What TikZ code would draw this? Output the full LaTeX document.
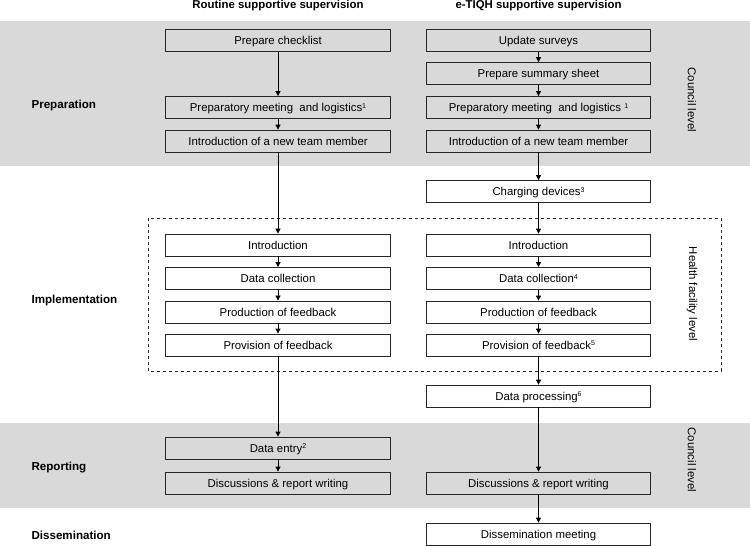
\documentclass[tikz,border=0pt]{standalone}
\usepackage{fontspec}
\setmainfont{Liberation Sans}
\usetikzlibrary{arrows.meta}
\definecolor{band}{HTML}{D9D9D9}
\newcommand{\supnum}[1]{\raisebox{0.55ex}{\fontsize{7}{7}\selectfont #1}}
\begin{document}
\begin{tikzpicture}[x=1pt,y=-1pt,
  font=\fontsize{11.4}{13}\selectfont,
  boxbase/.style={draw=black!85,line width=0.8pt,minimum width=224.5pt,minimum height=22pt,inner sep=0pt,text height=8.2pt,text depth=0pt,anchor=center},
  gbox/.style={boxbase,fill=band},
  wbox/.style={boxbase,fill=white},
  conn/.style={draw=black,line width=0.8pt,-{Triangle[length=5pt,width=5pt]}},
  head/.style={font=\fontsize{11.4}{13}\selectfont\bfseries},
  phase/.style={font=\fontsize{11.6}{13}\selectfont\bfseries,anchor=west},
  level/.style={rotate=-90,anchor=center}]
\useasboundingbox (0,0) rectangle (750,546);
\fill[white] (0,0) rectangle (750,546);
% bands
\fill[band] (0,21) rectangle (750,166);
\fill[band] (0,423) rectangle (750,508);
% dashed health facility box
\draw[dashed,line width=0.8pt,black!85] (148,218) rectangle (721,371);
% headings
\node[head] (h1) at (278,5.5) {Routine supportive supervision};
\node[head] (h2) at (538.5,5.5) {e-TIQH supportive supervision};
% phase labels
\node[phase] (p1) at (28,106) {Preparation};
\node[phase] (p2) at (28,300) {Implementation};
\node[phase] (p3) at (28,468) {Reporting};
\node[phase] (p4) at (28,535) {Dissemination};
% level labels
\node[level] (l1) at (692,100) {Council level};
\node[level] (l2) at (692,294) {Health facility level};
\node[level] (l3) at (692,460) {Council level};
% left column
\node[gbox] (a1) at (278,40.5) {Prepare checklist};
\node[gbox] (a2) at (278,107.5) {Preparatory meeting\ \ and logistics\supnum{1}};
\node[gbox] (a3) at (278,141) {Introduction of a new team member};
\node[wbox] (a4) at (278,245) {Introduction};
\node[wbox] (a5) at (278,278.5) {Data collection};
\node[wbox] (a6) at (278,312) {Production of feedback};
\node[wbox] (a7) at (278,345) {Provision of feedback};
\node[gbox] (a8) at (278,448) {Data entry\supnum{2}};
\node[gbox] (a9) at (278,483) {Discussions \& report writing};
% right column
\node[gbox] (b1) at (538.5,40.5) {Update surveys};
\node[gbox] (b2) at (538.5,73.5) {Prepare summary sheet};
\node[gbox] (b3) at (538.5,107.5) {Preparatory meeting\ \ and logistics \supnum{1}};
\node[gbox] (b4) at (538.5,141) {Introduction of a new team member};
\node[wbox] (b5) at (538.5,191.5) {Charging devices\supnum{3}};
\node[wbox] (b6) at (538.5,245) {Introduction};
\node[wbox] (b7) at (538.5,278.5) {Data collection\supnum{4}};
\node[wbox] (b8) at (538.5,312) {Production of feedback};
\node[wbox] (b9) at (538.5,345) {Provision of feedback\supnum{5}};
\node[wbox] (b10) at (538.5,396) {Data processing\supnum{6}};
\node[gbox] (b11) at (538.5,483) {Discussions \& report writing};
\node[wbox] (b12) at (538.5,534) {Dissemination meeting};
% connectors left
\draw[conn] (a1) -- (a2);
\draw[conn] (a2) -- (a3);
\draw[conn] (a3) -- (a4);
\draw[conn] (a4) -- (a5);
\draw[conn] (a5) -- (a6);
\draw[conn] (a6) -- (a7);
\draw[conn] (a7) -- (a8);
\draw[conn] (a8) -- (a9);
% connectors right
\draw[conn] (b1) -- (b2);
\draw[conn] (b2) -- (b3);
\draw[conn] (b3) -- (b4);
\draw[conn] (b4) -- (b5);
\draw[conn] (b5) -- (b6);
\draw[conn] (b6) -- (b7);
\draw[conn] (b7) -- (b8);
\draw[conn] (b8) -- (b9);
\draw[conn] (b9) -- (b10);
\draw[conn] (b10) -- (b11);
\draw[conn] (b11) -- (b12);
\end{tikzpicture}
\end{document}
